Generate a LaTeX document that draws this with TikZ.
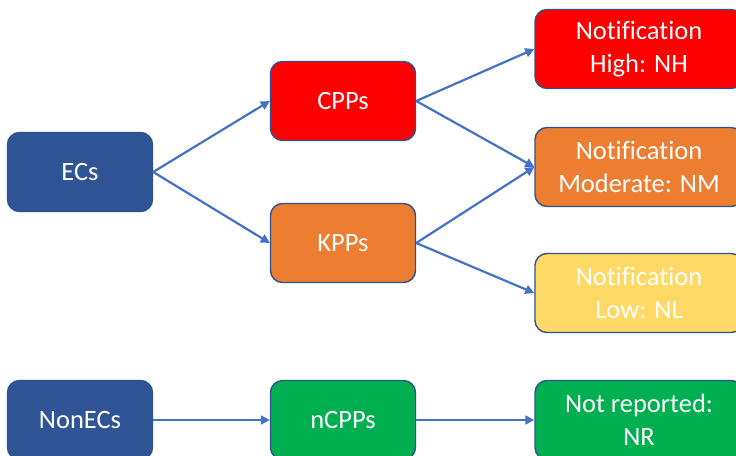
\documentclass[tikz,border=0pt]{standalone}
\usepackage{fontspec}
\setmainfont[Ligatures=NoCommon]{Carlito}
\usetikzlibrary{positioning, arrows.meta}

\definecolor{ecblue}{HTML}{2F5597}
\definecolor{edgeblue}{HTML}{2F528F}
\definecolor{arrowblue}{HTML}{4472C4}
\definecolor{cppred}{HTML}{FF0000}
\definecolor{kpporange}{HTML}{ED7D31}
\definecolor{lowyellow}{HTML}{FFD966}
\definecolor{ncppgreen}{HTML}{00B050}

\begin{document}
\begin{tikzpicture}[x=1pt, y=-1pt,
    >={Triangle[length=9pt, width=9pt]},
    box/.style={draw=edgeblue, line width=1.4pt, rounded corners=12pt, text=white,
      minimum width=145pt, minimum height=79pt, inner sep=0pt, align=center,
      font=\fontsize{26.5}{32.5}\selectfont},
    widebox/.style={box, minimum width=208pt},
    link/.style={->, draw=arrowblue, line width=2.2pt}]
      \useasboundingbox (0,0) rectangle (736,455);
      \clip (0,0) rectangle (736,455);

      % Sources
      \node[box, fill=ecblue] (ecs) at (80,172) {ECs};
      \node[box, fill=ecblue] (nonecs) at (80,420) {NonECs};

      % Middle column
      \node[box, fill=cppred] (cpps) at (343,101) {CPPs};
      \node[box, fill=kpporange] (kpps) at (343,243) {KPPs};
      \node[box, fill=ncppgreen] (ncpps) at (343,420) {nCPPs};

      % Notification levels
      \node[widebox, fill=cppred] (nh) at (639,49) {Notification\\High: NH};
      \node[widebox, fill=kpporange] (nm) at (639,167) {Notification\\Moderate: NM};
      \node[widebox, fill=lowyellow] (nl) at (639,293) {Notification\\Low: NL};
      \node[widebox, fill=ncppgreen] (nr) at (639,420) {Not reported:\\NR};

      % Connections
      \draw[link] (ecs.east) -- (cpps.west);
      \draw[link] (ecs.east) -- (kpps.west);
      \draw[link] (cpps.east) -- (nh.west);
      \draw[link] (cpps.east) -- (nm.west);
      \draw[link] (kpps.east) -- (nm.west);
      \draw[link] (kpps.east) -- (nl.west);
      \draw[link] (nonecs) -- (ncpps);
      \draw[link] (ncpps) -- (nr);
\end{tikzpicture}
\end{document}
